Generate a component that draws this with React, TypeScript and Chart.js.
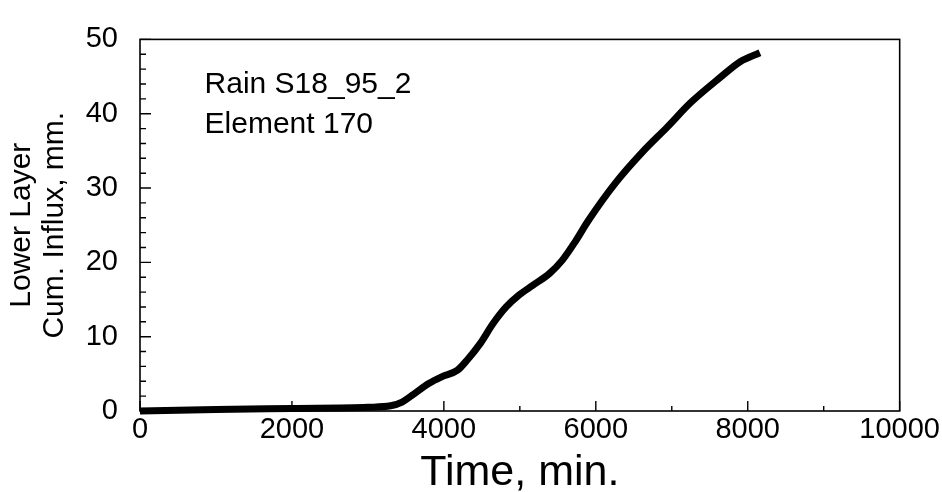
import React, { useEffect, useRef } from "react";
import { Chart, registerables } from "chart.js";

Chart.register(...registerables);

// Data
const timeMin = [0, 1000, 2000, 3000, 3300, 3450, 3580, 3800, 3970, 4180, 4310, 4480, 4650, 4820, 4990, 5170, 5390, 5560, 5730, 5900, 6260, 6610, 6940, 7250, 7640, 7900, 8160];
const influxMm = [0, 0.2, 0.35, 0.5, 0.7, 1.2, 2.1, 3.7, 4.6, 5.5, 6.9, 9.1, 11.8, 14.0, 15.6, 16.9, 18.5, 20.3, 22.8, 25.6, 30.7, 34.8, 38.2, 41.5, 44.9, 47.0, 48.2];

const xMajorTicks = [0, 2000, 4000, 6000, 8000, 10000];
const xMinorTicks = [1000, 3000, 5000, 7000, 9000];
const yMajorTicks = [0, 10, 20, 30, 40, 50];
const yMinorTicks = [2, 4, 6, 8, 12, 14, 16, 18, 22, 24, 26, 28, 32, 34, 36, 38, 42, 44, 46, 48];

const xTitle = "Time, min.";
const yTitle = ["Lower Layer", "Cum. Influx, mm."];
const annotationLines = ["Rain S18_95_2", "Element 170"];
const annotationAt = { x: 850, y: 42.8 };

const FONT = '"Liberation Sans", Arial, Helvetica, sans-serif';

const framePlugin = {
  id: "frame",
  beforeDatasetsDraw(chart: any) {
    const { ctx, chartArea } = chart;
    const { left, right, top, bottom } = chartArea;
    const xs = chart.scales.x;
    const ys = chart.scales.y;
    ctx.save();
    ctx.strokeStyle = "#000";
    ctx.lineWidth = 1.6;
    ctx.strokeRect(left, top, right - left, bottom - top);
    ctx.lineWidth = 1.4;
    ctx.beginPath();
    xMajorTicks.forEach((v) => {
      const p = xs.getPixelForValue(v);
      ctx.moveTo(p, bottom);
      ctx.lineTo(p, bottom - 10);
    });
    xMinorTicks.forEach((v) => {
      const p = xs.getPixelForValue(v);
      ctx.moveTo(p, bottom);
      ctx.lineTo(p, bottom - 5);
    });
    yMajorTicks.forEach((v) => {
      const p = ys.getPixelForValue(v);
      ctx.moveTo(left, p);
      ctx.lineTo(left + 11, p);
    });
    yMinorTicks.forEach((v) => {
      const p = ys.getPixelForValue(v);
      ctx.moveTo(left, p);
      ctx.lineTo(left + 6, p);
    });
    ctx.stroke();

    ctx.fillStyle = "#000";
    ctx.font = `30px ${FONT}`;
    ctx.textAlign = "left";
    ctx.textBaseline = "alphabetic";
    const ax = xs.getPixelForValue(annotationAt.x);
    const ay = ys.getPixelForValue(annotationAt.y);
    annotationLines.forEach((t, i) => ctx.fillText(t, ax, ay + i * 40));
    ctx.restore();
  },
};

export default function App() {
  const ref = useRef<HTMLCanvasElement | null>(null);

  useEffect(() => {
    if (!ref.current) return;
    const chart = new Chart(ref.current, {
      type: "line",
      data: {
        datasets: [
          {
            data: timeMin.map((t, i) => ({ x: t, y: influxMm[i] })),
            borderColor: "#000",
            borderWidth: 7,
            borderJoinStyle: "round",
            pointRadius: 0,
            cubicInterpolationMode: "monotone",
            fill: false,
            clip: false as any,
          },
        ],
      },
      options: {
        animation: false,
        responsive: false,
        devicePixelRatio: 1,
        layout: { padding: { top: 30, right: 42, left: 0, bottom: 0 } },
        plugins: { legend: { display: false }, tooltip: { enabled: false } },
        scales: {
          x: {
            type: "linear",
            min: 0,
            max: 10000,
            afterFit: (s: any) => {
              s.height = 81;
            },
            afterBuildTicks: (s: any) => {
              s.ticks = xMajorTicks.map((v) => ({ value: v }));
            },
            grid: { display: false, drawTicks: false },
            border: { display: false },
            ticks: {
              color: "#000",
              font: { family: FONT, size: 29 },
              padding: 2,
              maxRotation: 0,
              autoSkip: false,
              callback: (v: any) => String(v),
            },
            title: {
              display: true,
              text: xTitle,
              color: "#000",
              font: { family: FONT, size: 43, lineHeight: 0.9 },
              padding: { top: 0, bottom: 0 },
            },
          },
          y: {
            type: "linear",
            min: 0,
            max: 50,
            afterFit: (s: any) => {
              s.width = 140;
            },
            afterBuildTicks: (s: any) => {
              s.ticks = yMajorTicks.map((v) => ({ value: v }));
            },
            grid: { display: false, drawTicks: false },
            border: { display: false },
            ticks: {
              color: "#000",
              font: { family: FONT, size: 29 },
              padding: 22,
              autoSkip: false,
              callback: (v: any) => String(v),
            },
            title: {
              display: true,
              text: yTitle,
              color: "#000",
              font: { family: FONT, size: 30, lineHeight: 1.1 },
              padding: { top: 5, bottom: 0 },
            },
          },
        },
      },
      plugins: [framePlugin],
    });
    return () => chart.destroy();
  }, []);

  return (
    <div style={{ position: "fixed", left: 0, top: 0, width: 942, height: 492, background: "#fff" }}>
      <canvas ref={ref} width={942} height={492} style={{ display: "block" }} />
    </div>
  );
}
